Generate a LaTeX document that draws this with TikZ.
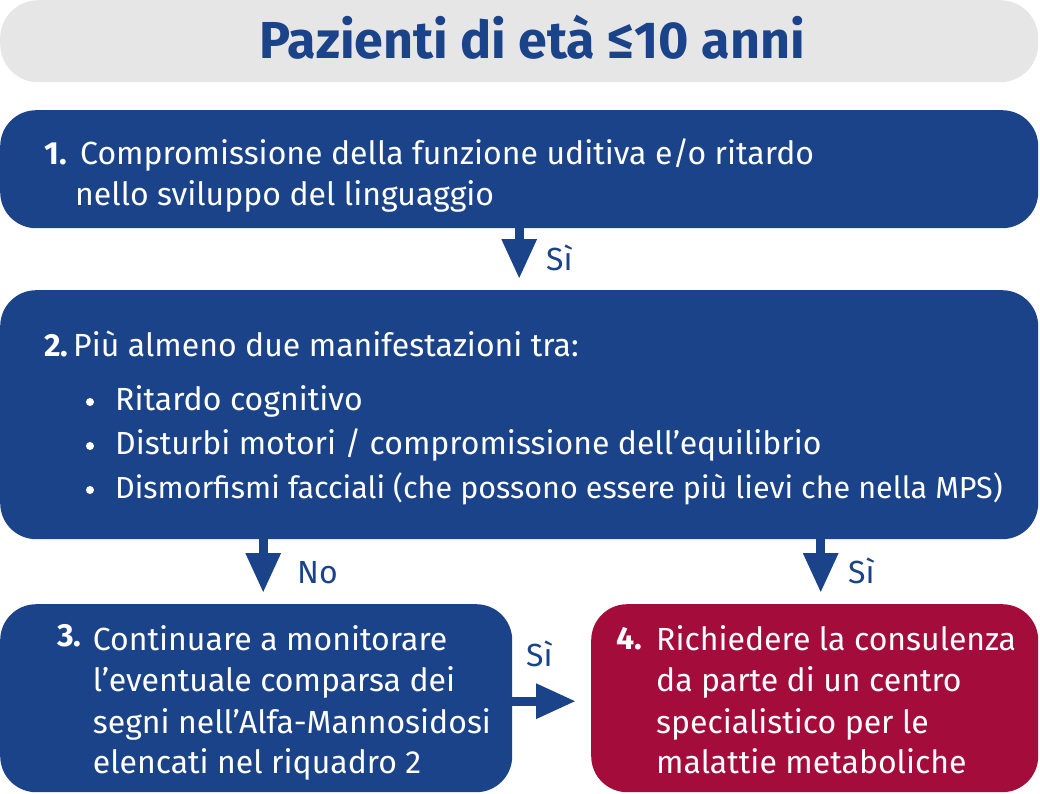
\documentclass[tikz,border=0pt]{standalone}
\usepackage{fontspec}
\setmainfont{Fira Sans}
\usetikzlibrary{arrows.meta,positioning}
\definecolor{boxblue}{RGB}{27,67,138}
\definecolor{boxred}{RGB}{163,12,59}
\definecolor{titlegray}{RGB}{230,230,230}
\tikzset{
	box/.style={rectangle, rounded corners=36pt, anchor=north west, inner sep=0pt},
	bluebox/.style={box, fill=boxblue},
	redbox/.style={box, fill=boxred},
	txt/.style={text=white, anchor=base west, inner sep=0pt, font=\fontsize{32}{38}\selectfont},
	lbl/.style={text=boxblue, anchor=base west, inner sep=0pt, font=\fontsize{32}{38}\selectfont},
	flow/.style={draw=boxblue, line width=9pt, -{Triangle[length=40pt,width=33pt]}, shorten >=11pt},
}
\begin{document}
\begin{tikzpicture}[x=1pt,y=1pt]
	\useasboundingbox (0,0) rectangle (1040,-794);
	% title
	\node[box, fill=titlegray, rounded corners=38pt, minimum width=1038pt, minimum height=82pt] (tbox) at (0,0) {};
	\node[text=boxblue, anchor=base, inner sep=0pt, font=\fontsize{52}{60}\selectfont\bfseries] (title) at (532,-59) {Pazienti di età ≤10 anni};
	% boxes
	\node[bluebox, minimum width=1038pt, minimum height=118pt] (b1) at (0,-110) {};
	\node[bluebox, minimum width=1038pt, minimum height=249pt] (b2) at (0,-290) {};
	\node[bluebox, minimum width=512pt, minimum height=188pt] (b3) at (0,-604) {};
	\node[redbox, minimum width=447pt, minimum height=188pt] (b4) at (591,-604) {};
	% box 1
	\node[txt] (n1) at (44,-164.5) {\textbf{1.}};
	\node[txt] (l11) at (80,-164.5) {Compromissione della funzione uditiva e/o ritardo};
	\node[txt] (l12) at (75,-206) {nello sviluppo del linguaggio};
	% box 2
	\node[txt] (n2) at (44,-356.7) {\textbf{2.}};
	\node[txt] (l20) at (73,-356.7) {Più almeno due manifestazioni tra:};
	\foreach \t [count=\i] in {Ritardo cognitivo,
		Disturbi motori / compromissione dell’equilibrio}{
		\fill[white] (90,-402-44*\i+44) circle (4pt);
		\node[txt] (l2\i) at (115,-410-44*\i+44) {\t};
	}
	\fill[white] (90,-490) circle (4pt);
	\node[txt, font=\fontsize{30.5}{38}\selectfont] (l23) at (115,-498) {Dismorfismi facciali (che possono essere più lievi che nella MPS)};
	% box 3
	\node[txt] (n3) at (57,-646) {\textbf{3.}};
	\foreach \t/\y [count=\i] in {Continuare a monitorare/650.7,
		l’eventuale comparsa dei/691.7,
		segni nell’Alfa-Mannosidosi/733,
		elencati nel riquadro 2/773}{
		\node[txt] (l3\i) at (92.7,-\y) {\t};
	}
	% box 4
	\node[txt] (n4) at (616,-649) {\textbf{4.}};
	\foreach \t/\y [count=\i] in {Richiedere la consulenza/650.7,
		da parte di un centro/691.7,
		specialistico per le/733,
		malattie metaboliche/773}{
		\node[txt] (l4\i) at (656,-\y) {\t};
	}
	% arrows
	\coordinate (a3) at ([xshift=7pt]b3.north);
	\coordinate (a4) at ([xshift=6pt]b4.north);
	\draw[flow] (b1.south) -- (b2.north);
	\draw[flow] (a3 |- b2.south) -- (a3);
	\draw[flow] (a4 |- b2.south) -- (a4);
	\draw[flow, shorten >=15pt] ([yshift=-3pt]b3.east) -- ([yshift=-3pt]b4.west);
	\node[lbl] (y1) at (546,-270) {Sì};
	\node[lbl] (no) at (297,-583) {No};
	\node[lbl] (y2) at (848,-583) {Sì};
	\node[lbl] (y3) at (526,-666) {Sì};
\end{tikzpicture}
\end{document}
